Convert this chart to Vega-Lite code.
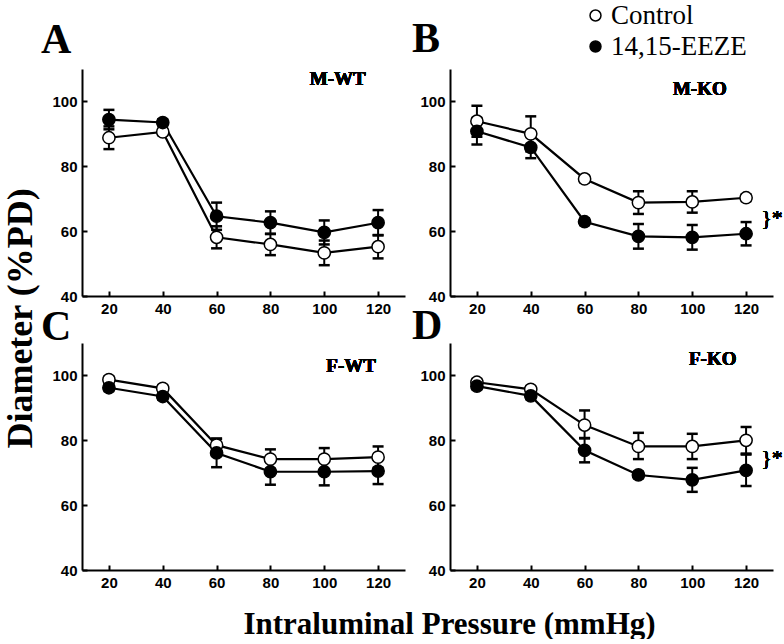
{
  "$schema": "https://vega.github.io/schema/vega-lite/v6.json",
  "background": "white",
  "padding": {"left": 2, "top": 2, "right": 0, "bottom": 0},
  "config": {
    "view": {"stroke": null},
    "axis": {"domainColor": "black", "domainWidth": 2, "tickColor": "black", "tickWidth": 2, "tickSize": -5, "labelPadding": 10, "labelFont": "Liberation Sans", "labelFontWeight": "bold", "labelFontSize": 15, "labelColor": "black", "grid": false, "titleColor": "black"},
    "title": {"font": "Liberation Serif", "fontSize": 42, "fontWeight": "bold", "anchor": "start", "frame": "group", "color": "black", "baseline": "alphabetic"}
  },
  "datasets": {
    "d": [
      {"panel": "A", "group": "Control", "pressure": 20, "mean": 88.8, "lo": 85.3, "hi": 92.3},
      {"panel": "A", "group": "Control", "pressure": 40, "mean": 90.6, "lo": 89.6, "hi": 91.6},
      {"panel": "A", "group": "Control", "pressure": 60, "mean": 58.1, "lo": 54.7, "hi": 61.5},
      {"panel": "A", "group": "Control", "pressure": 80, "mean": 55.9, "lo": 52.6, "hi": 59.2},
      {"panel": "A", "group": "Control", "pressure": 100, "mean": 53.3, "lo": 49.5, "hi": 57.1},
      {"panel": "A", "group": "Control", "pressure": 120, "mean": 55.2, "lo": 51.6, "hi": 58.8},
      {"panel": "A", "group": "14,15-EEZE", "pressure": 20, "mean": 94.4, "lo": 91.4, "hi": 97.4},
      {"panel": "A", "group": "14,15-EEZE", "pressure": 40, "mean": 93.5, "lo": 92.5, "hi": 94.5},
      {"panel": "A", "group": "14,15-EEZE", "pressure": 60, "mean": 64.6, "lo": 60.4, "hi": 68.8},
      {"panel": "A", "group": "14,15-EEZE", "pressure": 80, "mean": 62.6, "lo": 59.1, "hi": 66.1},
      {"panel": "A", "group": "14,15-EEZE", "pressure": 100, "mean": 59.6, "lo": 55.9, "hi": 63.3},
      {"panel": "A", "group": "14,15-EEZE", "pressure": 120, "mean": 62.6, "lo": 58.7, "hi": 66.5},
      {"panel": "B", "group": "Control", "pressure": 20, "mean": 93.9, "lo": 89.1, "hi": 98.7},
      {"panel": "B", "group": "Control", "pressure": 40, "mean": 90.0, "lo": 84.6, "hi": 95.4},
      {"panel": "B", "group": "Control", "pressure": 60, "mean": 76.1, "lo": 75.1, "hi": 77.1},
      {"panel": "B", "group": "Control", "pressure": 80, "mean": 68.8, "lo": 65.3, "hi": 72.3},
      {"panel": "B", "group": "Control", "pressure": 100, "mean": 69.0, "lo": 65.7, "hi": 72.3},
      {"panel": "B", "group": "Control", "pressure": 120, "mean": 70.3, "lo": 69.3, "hi": 71.3},
      {"panel": "B", "group": "14,15-EEZE", "pressure": 20, "mean": 90.8, "lo": 86.7, "hi": 94.9},
      {"panel": "B", "group": "14,15-EEZE", "pressure": 40, "mean": 85.8, "lo": 82.5, "hi": 89.1},
      {"panel": "B", "group": "14,15-EEZE", "pressure": 60, "mean": 62.9, "lo": 61.9, "hi": 63.9},
      {"panel": "B", "group": "14,15-EEZE", "pressure": 80, "mean": 58.4, "lo": 54.6, "hi": 62.2},
      {"panel": "B", "group": "14,15-EEZE", "pressure": 100, "mean": 58.1, "lo": 54.3, "hi": 61.9},
      {"panel": "B", "group": "14,15-EEZE", "pressure": 120, "mean": 59.2, "lo": 55.6, "hi": 62.8},
      {"panel": "C", "group": "Control", "pressure": 20, "mean": 98.7, "lo": 97.7, "hi": 99.7},
      {"panel": "C", "group": "Control", "pressure": 40, "mean": 96.0, "lo": 95.0, "hi": 97.0},
      {"panel": "C", "group": "Control", "pressure": 60, "mean": 78.5, "lo": 76.5, "hi": 80.5},
      {"panel": "C", "group": "Control", "pressure": 80, "mean": 74.2, "lo": 71.2, "hi": 77.2},
      {"panel": "C", "group": "Control", "pressure": 100, "mean": 74.2, "lo": 70.8, "hi": 77.6},
      {"panel": "C", "group": "Control", "pressure": 120, "mean": 74.8, "lo": 71.5, "hi": 78.1},
      {"panel": "C", "group": "14,15-EEZE", "pressure": 20, "mean": 96.2, "lo": 95.2, "hi": 97.2},
      {"panel": "C", "group": "14,15-EEZE", "pressure": 40, "mean": 93.5, "lo": 92.5, "hi": 94.5},
      {"panel": "C", "group": "14,15-EEZE", "pressure": 60, "mean": 76.1, "lo": 71.7, "hi": 80.5},
      {"panel": "C", "group": "14,15-EEZE", "pressure": 80, "mean": 70.3, "lo": 66.3, "hi": 74.3},
      {"panel": "C", "group": "14,15-EEZE", "pressure": 100, "mean": 70.3, "lo": 66.1, "hi": 74.5},
      {"panel": "C", "group": "14,15-EEZE", "pressure": 120, "mean": 70.5, "lo": 66.5, "hi": 74.5},
      {"panel": "D", "group": "Control", "pressure": 20, "mean": 97.9, "lo": 96.9, "hi": 98.9},
      {"panel": "D", "group": "Control", "pressure": 40, "mean": 95.7, "lo": 94.7, "hi": 96.7},
      {"panel": "D", "group": "Control", "pressure": 60, "mean": 84.7, "lo": 80.7, "hi": 89.2},
      {"panel": "D", "group": "Control", "pressure": 80, "mean": 78.1, "lo": 74.2, "hi": 82.3},
      {"panel": "D", "group": "Control", "pressure": 100, "mean": 78.1, "lo": 74.2, "hi": 82.0},
      {"panel": "D", "group": "Control", "pressure": 120, "mean": 80.0, "lo": 75.9, "hi": 84.1},
      {"panel": "D", "group": "14,15-EEZE", "pressure": 20, "mean": 96.7, "lo": 95.7, "hi": 97.7},
      {"panel": "D", "group": "14,15-EEZE", "pressure": 40, "mean": 93.7, "lo": 92.7, "hi": 94.7},
      {"panel": "D", "group": "14,15-EEZE", "pressure": 60, "mean": 76.9, "lo": 73.2, "hi": 80.6},
      {"panel": "D", "group": "14,15-EEZE", "pressure": 80, "mean": 69.3, "lo": 68.3, "hi": 70.3},
      {"panel": "D", "group": "14,15-EEZE", "pressure": 100, "mean": 67.8, "lo": 64.1, "hi": 71.5},
      {"panel": "D", "group": "14,15-EEZE", "pressure": 120, "mean": 70.7, "lo": 65.9, "hi": 75.6}
    ]
  },
  "bounds": "flush",
  "spacing": {"row": 47, "column": 45},
  "columns": 2,
  "concat": [
        {
          "width": 323, "height": 227,
          "title": {"text": "A", "dx": -41, "offset": 7},
          "data": {"name": "d"},
          "transform": [{"filter": "datum.panel === 'A'"}],
          "encoding": {"x": {"field": "pressure", "type": "quantitative", "scale": {"domain": [10, 130], "nice": false, "zero": false}, "axis": {"values": [20, 40, 60, 80, 100, 120], "title": null}}},
          "layer": [
            {"mark": {"type": "rule", "color": "black", "strokeWidth": 2}, "encoding": {"y": {"field": "lo", "type": "quantitative", "scale": {"domain": [40, 110], "nice": false, "zero": false}, "axis": {"values": [40, 60, 80, 100], "title": "Diameter (%PD)", "titleFont": "Liberation Serif", "titleFontSize": 36, "titleFontWeight": "bold", "titleX": -62, "titleY": 249, "titleBaseline": "middle", "titleAlign": "center", "titleAngle": -90}}, "y2": {"field": "hi"}}},
            {"mark": {"type": "tick", "orient": "horizontal", "color": "black", "size": 11, "thickness": 2.5, "opacity": 1}, "encoding": {"y": {"field": "lo", "type": "quantitative"}}},
            {"mark": {"type": "tick", "orient": "horizontal", "color": "black", "size": 11, "thickness": 2.5, "opacity": 1}, "encoding": {"y": {"field": "hi", "type": "quantitative"}}},
            {"mark": {"type": "line", "color": "black", "strokeWidth": 2.2}, "encoding": {"y": {"field": "mean", "type": "quantitative"}, "detail": {"field": "group"}}},
            {"mark": {"type": "point", "shape": "circle", "filled": true, "stroke": "black", "strokeWidth": 1.5, "size": 150, "opacity": 1}, "encoding": {"y": {"field": "mean", "type": "quantitative"}, "fill": {"field": "group", "type": "nominal", "scale": {"domain": ["Control", "14,15-EEZE"], "range": ["white", "black"]}, "legend": {"title": null, "orient": "none", "legendX": 500, "legendY": -67, "symbolType": "circle", "symbolSize": 120, "symbolStrokeColor": "black", "symbolStrokeWidth": 1.5, "symbolOpacity": 1, "labelFont": "Liberation Serif", "labelFontSize": 27, "labelColor": "black", "rowPadding": 3, "labelOffset": 2}}}},
            {"mark": {"type": "text", "text": "M-WT", "font": "Liberation Serif", "fontWeight": "bold", "fontSize": 19, "color": "black", "align": "center", "baseline": "middle"}, "encoding": {"x": {"datum": 105}, "y": {"datum": 106.8}}}
          ]
        },
        {
          "width": 323, "height": 227,
          "title": {"text": "B", "dx": -38, "offset": 8},
          "data": {"name": "d"},
          "transform": [{"filter": "datum.panel === 'B'"}],
          "encoding": {"x": {"field": "pressure", "type": "quantitative", "scale": {"domain": [10, 130], "nice": false, "zero": false}, "axis": {"values": [20, 40, 60, 80, 100, 120], "title": null}}},
          "layer": [
            {"mark": {"type": "rule", "color": "black", "strokeWidth": 2}, "encoding": {"y": {"field": "lo", "type": "quantitative", "scale": {"domain": [40, 110], "nice": false, "zero": false}, "axis": {"values": [40, 60, 80, 100], "title": null}}, "y2": {"field": "hi"}}},
            {"mark": {"type": "tick", "orient": "horizontal", "color": "black", "size": 11, "thickness": 2.5, "opacity": 1}, "encoding": {"y": {"field": "lo", "type": "quantitative"}}},
            {"mark": {"type": "tick", "orient": "horizontal", "color": "black", "size": 11, "thickness": 2.5, "opacity": 1}, "encoding": {"y": {"field": "hi", "type": "quantitative"}}},
            {"mark": {"type": "line", "color": "black", "strokeWidth": 2.2}, "encoding": {"y": {"field": "mean", "type": "quantitative"}, "detail": {"field": "group"}}},
            {"mark": {"type": "point", "shape": "circle", "filled": true, "stroke": "black", "strokeWidth": 1.5, "size": 150, "opacity": 1}, "encoding": {"y": {"field": "mean", "type": "quantitative"}, "fill": {"field": "group", "type": "nominal", "scale": {"domain": ["Control", "14,15-EEZE"], "range": ["white", "black"]}, "legend": {"title": null, "orient": "none", "legendX": 500, "legendY": -67, "symbolType": "circle", "symbolSize": 120, "symbolStrokeColor": "black", "symbolStrokeWidth": 1.5, "symbolOpacity": 1, "labelFont": "Liberation Serif", "labelFontSize": 27, "labelColor": "black", "rowPadding": 3, "labelOffset": 2}}}},
            {"mark": {"type": "text", "text": "M-KO", "font": "Liberation Serif", "fontWeight": "bold", "fontSize": 19, "color": "black", "align": "center", "baseline": "middle"}, "encoding": {"x": {"datum": 102.8}, "y": {"datum": 103.8}}},
            {"mark": {"type": "text", "text": "}*", "font": "Liberation Serif", "fontSize": 22, "color": "black", "align": "left", "baseline": "middle"}, "encoding": {"x": {"datum": 125.6}, "y": {"datum": 63.9}}}
          ]
        },
        {
          "width": 323, "height": 227,
          "title": {"text": "C", "dx": -41, "offset": -6},
          "data": {"name": "d"},
          "transform": [{"filter": "datum.panel === 'C'"}],
          "encoding": {"x": {"field": "pressure", "type": "quantitative", "scale": {"domain": [10, 130], "nice": false, "zero": false}, "axis": {"values": [20, 40, 60, 80, 100, 120], "title": "Intraluminal Pressure (mmHg)", "titleFont": "Liberation Serif", "titleFontSize": 31, "titleFontWeight": "bold", "titleX": 367, "titleY": 63, "titleBaseline": "alphabetic", "titleAlign": "center"}}},
          "layer": [
            {"mark": {"type": "rule", "color": "black", "strokeWidth": 2}, "encoding": {"y": {"field": "lo", "type": "quantitative", "scale": {"domain": [40, 110], "nice": false, "zero": false}, "axis": {"values": [40, 60, 80, 100], "title": null}}, "y2": {"field": "hi"}}},
            {"mark": {"type": "tick", "orient": "horizontal", "color": "black", "size": 11, "thickness": 2.5, "opacity": 1}, "encoding": {"y": {"field": "lo", "type": "quantitative"}}},
            {"mark": {"type": "tick", "orient": "horizontal", "color": "black", "size": 11, "thickness": 2.5, "opacity": 1}, "encoding": {"y": {"field": "hi", "type": "quantitative"}}},
            {"mark": {"type": "line", "color": "black", "strokeWidth": 2.2}, "encoding": {"y": {"field": "mean", "type": "quantitative"}, "detail": {"field": "group"}}},
            {"mark": {"type": "point", "shape": "circle", "filled": true, "stroke": "black", "strokeWidth": 1.5, "size": 150, "opacity": 1}, "encoding": {"y": {"field": "mean", "type": "quantitative"}, "fill": {"field": "group", "type": "nominal", "scale": {"domain": ["Control", "14,15-EEZE"], "range": ["white", "black"]}, "legend": {"title": null, "orient": "none", "legendX": 500, "legendY": -67, "symbolType": "circle", "symbolSize": 120, "symbolStrokeColor": "black", "symbolStrokeWidth": 1.5, "symbolOpacity": 1, "labelFont": "Liberation Serif", "labelFontSize": 27, "labelColor": "black", "rowPadding": 3, "labelOffset": 2}}}},
            {"mark": {"type": "text", "text": "F-WT", "font": "Liberation Serif", "fontWeight": "bold", "fontSize": 19, "color": "black", "align": "center", "baseline": "middle"}, "encoding": {"x": {"datum": 110}, "y": {"datum": 103}}}
          ]
        },
        {
          "width": 323, "height": 227,
          "title": {"text": "D", "dx": -38, "offset": -5},
          "data": {"name": "d"},
          "transform": [{"filter": "datum.panel === 'D'"}],
          "encoding": {"x": {"field": "pressure", "type": "quantitative", "scale": {"domain": [10, 130], "nice": false, "zero": false}, "axis": {"values": [20, 40, 60, 80, 100, 120], "title": null}}},
          "layer": [
            {"mark": {"type": "rule", "color": "black", "strokeWidth": 2}, "encoding": {"y": {"field": "lo", "type": "quantitative", "scale": {"domain": [40, 110], "nice": false, "zero": false}, "axis": {"values": [40, 60, 80, 100], "title": null}}, "y2": {"field": "hi"}}},
            {"mark": {"type": "tick", "orient": "horizontal", "color": "black", "size": 11, "thickness": 2.5, "opacity": 1}, "encoding": {"y": {"field": "lo", "type": "quantitative"}}},
            {"mark": {"type": "tick", "orient": "horizontal", "color": "black", "size": 11, "thickness": 2.5, "opacity": 1}, "encoding": {"y": {"field": "hi", "type": "quantitative"}}},
            {"mark": {"type": "line", "color": "black", "strokeWidth": 2.2}, "encoding": {"y": {"field": "mean", "type": "quantitative"}, "detail": {"field": "group"}}},
            {"mark": {"type": "point", "shape": "circle", "filled": true, "stroke": "black", "strokeWidth": 1.5, "size": 150, "opacity": 1}, "encoding": {"y": {"field": "mean", "type": "quantitative"}, "fill": {"field": "group", "type": "nominal", "scale": {"domain": ["Control", "14,15-EEZE"], "range": ["white", "black"]}, "legend": {"title": null, "orient": "none", "legendX": 500, "legendY": -67, "symbolType": "circle", "symbolSize": 120, "symbolStrokeColor": "black", "symbolStrokeWidth": 1.5, "symbolOpacity": 1, "labelFont": "Liberation Serif", "labelFontSize": 27, "labelColor": "black", "rowPadding": 3, "labelOffset": 2}}}},
            {"mark": {"type": "text", "text": "F-KO", "font": "Liberation Serif", "fontWeight": "bold", "fontSize": 19, "color": "black", "align": "center", "baseline": "middle"}, "encoding": {"x": {"datum": 107.6}, "y": {"datum": 105.2}}},
            {"mark": {"type": "text", "text": "}*", "font": "Liberation Serif", "fontSize": 22, "color": "black", "align": "left", "baseline": "middle"}, "encoding": {"x": {"datum": 125.6}, "y": {"datum": 74.4}}}
          ]
        }
  ]
}
